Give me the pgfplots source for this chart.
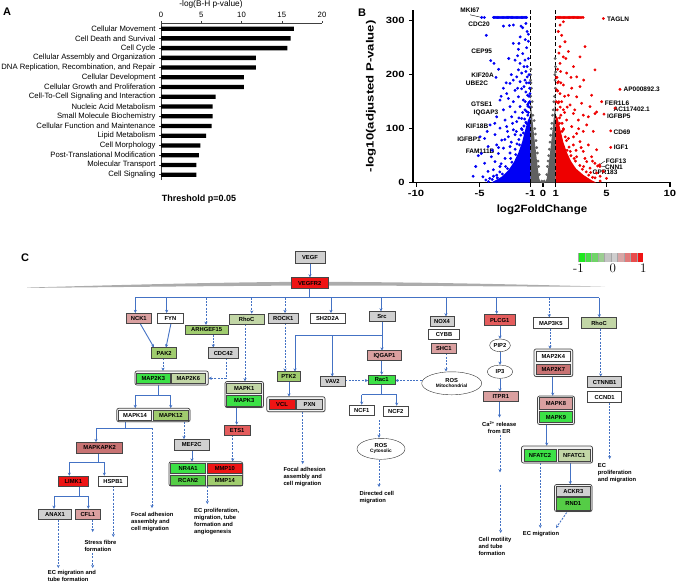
\documentclass[border=0pt]{standalone}
\usepackage{fontspec}
\setmainfont{Liberation Sans}
\newfontfamily\lmr{Latin Modern Roman}
\usepackage{pgfplots}
\pgfplotsset{compat=1.18}
\usetikzlibrary{arrows.meta,shadows,shapes.geometric}
\definecolor{abl}{RGB}{68,114,196}
\definecolor{vblue}{RGB}{0,0,245}
\definecolor{vred}{RGB}{238,0,0}
\definecolor{vgray}{RGB}{96,96,96}
\definecolor{cgray}{RGB}{208,208,208}
\definecolor{cred}{RGB}{238,20,20}
\definecolor{cred2}{RGB}{228,92,92}
\definecolor{cpink}{RGB}{218,160,160}
\definecolor{cdpink}{RGB}{200,115,115}
\definecolor{cgreen}{RGB}{60,225,70}
\definecolor{cgreen2}{RGB}{85,205,70}
\definecolor{csage}{RGB}{194,214,166}
\definecolor{clgreen}{RGB}{160,204,110}
\definecolor{cl1}{RGB}{30,232,30}
\definecolor{cl2}{RGB}{72,222,72}
\definecolor{cl3}{RGB}{112,212,104}
\definecolor{cl4}{RGB}{155,205,145}
\definecolor{cl5}{RGB}{196,196,196}
\definecolor{cl6}{RGB}{206,206,206}
\definecolor{cl7}{RGB}{216,166,166}
\definecolor{cl8}{RGB}{226,122,122}
\definecolor{cl9}{RGB}{232,76,76}
\definecolor{cl10}{RGB}{240,20,20}
\tikzset{
 gbox/.style={draw=gray!55!black,line width=0.45pt,inner sep=0pt,font=\bfseries\fontsize{5.8}{6}\selectfont,drop shadow={shadow xshift=0.6pt,shadow yshift=-0.6pt,opacity=0.3}},
 grp/.style={draw=gray!55!black,line width=0.7pt,rounded corners=2pt,fill=gray!10,drop shadow={shadow xshift=0.6pt,shadow yshift=-0.6pt,opacity=0.3}},
 ell/.style={draw=black!80,line width=0.4pt,ellipse,inner sep=0pt,fill=white,align=center,font=\bfseries\fontsize{5.8}{6}\selectfont},
 sa/.style={abl,line width=0.9pt,-{Stealth[length=3.2pt,width=3.2pt]}},
 da/.style={sa,dash pattern=on 2pt off 1.3pt},
 ln/.style={abl,line width=0.9pt},
 txt/.style={font=\bfseries\fontsize{5.8}{7}\selectfont,align=left,anchor=north west,inner sep=0pt},
 gl/.style={font=\bfseries\fontsize{6.5}{7}\selectfont,inner sep=0pt},
}
\newcommand{\bx}[6][10]{\node[gbox,minimum height=#1pt,minimum width=#4pt,fill=#5] at (#2,#3) {#6};}
\begin{document}
\begin{tikzpicture}
\path[use as bounding box] (0pt,0pt) rectangle (676pt,-582pt);
% ---------------- Panel A
\node[font=\bfseries\fontsize{11}{12}\selectfont] at (7pt,-12pt) {A};
\node[font=\fontsize{8.3}{9}\selectfont] at (211pt,-4.5pt) {-log(B-H p-value)};
\node[font=\bfseries\fontsize{9}{10}\selectfont] at (199pt,-198.7pt) {Threshold p=0.05};
\begin{axis}[at={(161pt,-23.3pt)},anchor=north west,scale only axis,
 width=161pt,height=156.7pt,
 xbar,bar width=4.3pt,
 xmin=0,xmax=20,ymin=-0.55,ymax=15.55,
 axis x line=top,axis y line=left,
 axis line style={-,line width=0.6pt,black!75},
 every outer x axis line/.append style={-},
 every outer y axis line/.append style={-},
 xtick={0,5,10,15,20},ytick={0,...,15},
 yticklabels={Cell Signaling,Molecular Transport,Post-Translational Modification,Cell Morphology,Lipid Metabolism,Cellular Function and Maintenance,Small Molecule Biochemistry,Nucleic Acid Metabolism,Cell-To-Cell Signaling and Interaction,Cellular Growth and Proliferation,Cellular Development,{DNA Replication, Recombination, and Repair},Cellular Assembly and Organization,Cell Cycle,Cell Death and Survival,Cellular Movement},
 tick align=outside,major tick length=2pt,tick style={black!75,line width=0.5pt},
 tick label style={font=\fontsize{7.7}{8}\selectfont},
 /pgf/number format/assume math mode=true,
]
\addplot[fill=black,draw=none] coordinates {(16.5,15)(16.1,14)(15.7,13)(11.8,12)(11.8,11)(10.3,10)(10.3,9)(6.8,8)(6.4,7)(6.4,6)(6.3,5)(5.6,4)(4.9,3)(4.7,2)(4.4,1)(4.4,0)};
\end{axis}
% ---------------- Panel B
\node[font=\bfseries\fontsize{11}{12}\selectfont] at (362pt,-13pt) {B};
\begin{axis}[at={(413pt,-182.7pt)},anchor=south west,scale only axis,
 width=258pt,height=172.8pt,
 xmin=-10.24,xmax=10.08,ymin=0,ymax=320,clip=false,
 axis lines=left,
 axis line style={-,line width=1.3pt},
 every outer x axis line/.append style={-},every outer y axis line/.append style={-},
 xtick={-10,-5,-1,0,1,5,10},ytick={0,100,200,300},
 tick align=outside,major tick length=4pt,tick style={black,line width=1.1pt},
 tick label style={font=\bfseries\fontsize{9}{10}\selectfont,xscale=1.25},
 /pgf/number format/assume math mode=true,
 xlabel={log2FoldChange},ylabel={-log10(adjusted P-value)},
 xlabel style={font=\bfseries\fontsize{10.5}{12}\selectfont,xscale=1.1,at={(axis description cs:0.5,-0.158)},anchor=center},
 ylabel style={font=\bfseries\fontsize{10.5}{12}\selectfont,at={(axis description cs:-0.163,0.5)},anchor=center,xscale=1.25},
]
% dense cores
\addplot[fill=vgray,draw=none] coordinates {(-1,0)(-1,160)(-0.95,145)(-0.89,130)(-0.75,98)(-0.63,72)(-0.5,45)(-0.4,25)(-0.3,8)(-0.2,2)(0,0.5)(0.2,2)(0.3,8)(0.4,25)(0.5,45)(0.63,72)(0.75,98)(0.89,130)(0.95,150)(1,168)(1,0)};
\addplot[fill=vblue,draw=none] coordinates {(-1,0)(-4.1,0)(-3.7,5)(-3.2,12)(-2.7,24)(-2.3,38)(-1.95,55)(-1.65,75)(-1.4,98)(-1.2,115)(-1,125)};
\addplot[fill=vred,draw=none] coordinates {(1,0)(4.2,0)(3.8,5)(3.2,14)(2.6,26)(2.2,40)(1.9,55)(1.6,75)(1.35,100)(1.15,120)(1,125)};
% gray points
\addplot[only marks,mark=*,mark size=1.2pt,color=vgray] coordinates {
(-0.95,185)(-0.98,200)(-0.92,175)(-0.85,150)(-0.7,115)(-0.6,90)(-0.5,65)(-0.4,40)(-0.97,160)(-0.9,140)(-0.8,125)(-0.65,100)(-0.55,78)(-0.45,55)(-0.35,30)(0.35,30)(0.4,40)(0.5,62)(0.6,88)(0.7,110)(0.8,135)(0.9,160)(0.95,190)(0.98,215)(0.93,200)(0.85,150)(0.75,125)(0.65,100)(0.55,75)(0.45,50)(0.97,175)(-0.99,190)(0.99,205)(-0.3,15)(0.3,15)(-0.1,3)(0.1,3)(0,1)(-0.96,210)(0.96,230)};
% blue points
\addplot[only marks,mark=*,mark size=1.25pt,color=vblue] coordinates {
(-4.83,306)(-4.62,306)(-3.9,306)(-3.8,306)(-3.7,306)(-3.6,306)(-3.5,306)(-3.4,306)(-3.3,306)(-3.2,306)(-3.1,306)(-3.0,306)(-2.9,306)(-2.8,306)(-2.7,306)(-2.6,306)(-2.5,306)(-2.4,306)(-2.3,306)(-2.2,306)(-2.1,306)(-2.0,306)(-1.9,306)(-1.8,306)(-1.7,306)(-1.6,306)(-1.5,306)(-1.4,306)(-1.3,306)
(-4.47,273)(-3.12,290)(-2.65,291)(-2.34,292)(-1.73,290)(-1.6,287)(-1.35,295)(-2.34,258)(-1.94,247)(-1.6,239)(-1.29,250)(-1.15,262)
(-4.12,226)(-3.86,221)(-2.2,227)(-1.81,221)(-1.42,227)(-1.5,215)(-1.94,209)(-1.68,203)(-1.35,206)(-2.07,196)(-2.34,190)(-2.6,184)
(-1.81,187)(-1.42,190)(-1.24,196)(-3.12,175)(-2.86,165)(-2.2,171)(-1.68,174)(-1.35,168)(-3.39,153)(-2.73,156)(-2.34,150)(-1.94,159)
(-1.55,153)(-1.21,162)(-3.12,135)(-2.6,141)(-2.2,131)(-1.81,141)(-1.42,135)(-3.65,122)(-2.99,116)(-2.47,122)(-2.07,113)(-1.68,119)
(-4.17,107)(-3.39,101)(-2.86,104)(-2.34,98)(-4.6,82)(-3.78,89)(-3.25,79)(-2.73,85)(-2.2,89)(-4.33,67)(-3.65,70)(-3.12,64)(-2.6,67)
(-4.86,54)(-4.07,48)(-3.52,54)(-2.99,45)(-4.6,36)(-3.78,39)(-3.39,30)(-4.33,21)(-3.91,24)(-4.73,11)(-4.2,8)(-3.65,14)(-4.96,85)
(-5.3,30)(-5.1,50)(-5.5,12)(-2.5,200)(-2.9,185)(-3.3,160)(-2.0,175)(-1.15,230)(-1.25,215)(-1.1,200)(-1.3,185)(-1.5,178)(-1.2,145)
(-1.6,130)(-1.9,120)(-2.4,110)(-2.8,95)(-1.3,110)(-1.7,100)(-2.1,95)(-3.0,80)(-3.5,65)(-4.0,60)(-2.5,75)(-3.8,110)(-4.4,95)
(-1.15,275)(-1.25,280)(-1.4,265)(-1.8,270)(-2.0,235)(-2.7,230)(-3.5,210)(-3.7,195)(-1.9,258)
(-4.3,2)(-4.0,6)(-3.6,9)(-3.2,16)(-2.8,26)(-2.45,38)(-2.15,52)(-1.85,70)(-1.55,92)(-1.35,112)(-1.15,130)(-1.05,150)(-1.1,160)(-1.2,142)(-1.05,175)(-1.1,185)
(-3.9,12)(-3.4,20)(-2.95,30)(-2.55,45)(-2.2,62)(-1.9,80)(-1.65,98)(-1.45,118)(-1.3,132)(-1.12,148)(-4.5,5)(-3.3,35)(-2.6,55)(-2.05,72)(-1.75,88)(-1.5,105)(-1.2,125)(-1.08,140)(-1.03,165)(-1.4,150)};
% red points
\addplot[only marks,mark=*,mark size=1.25pt,color=vred] coordinates {
(1.1,306)(1.2,306)(1.3,306)(1.4,306)(1.5,306)(1.6,306)(1.7,306)(1.8,306)(1.9,306)(2.0,306)(2.1,306)(2.2,306)(2.3,306)(2.4,306)(2.5,306)(2.6,306)(2.7,306)(2.8,306)(2.9,306)(3.0,306)(3.15,306)
(1.34,292)(1.6,298)(1.47,273)(1.73,261)(1.34,252)(2.0,243)(1.6,233)(2.91,233)(1.34,221)(1.39,206)(1.86,203)(2.65,196)(1.21,187)
(1.6,181)(2.26,175)(2.91,178)(1.34,165)(2.0,162)(2.65,159)(3.83,162)(1.47,150)(2.13,144)(3.04,147)(3.7,141)(1.6,135)(2.39,128)
(3.57,122)(4.22,131)(1.86,116)(2.78,116)(3.44,107)(2.26,104)(1.6,98)(2.65,91)(3.17,95)(3.96,95)(2.0,82)(2.91,76)(2.39,70)(3.57,70)
(4.22,61)(3.17,58)(3.83,48)(2.65,48)(3.44,39)(4.09,36)(4.48,30)(3.7,27)(4.75,21)(4.22,18)(3.31,252)(4.09,209)(3.17,125)(4.09,128)
(1.2,280)(1.25,240)(1.15,210)(1.1,195)(1.15,170)(1.25,150)(1.4,185)(2.4,215)(1.8,230)(2.2,195)(1.7,160)(2.5,135)(1.3,120)(1.9,140)
(3.2,190)(2.8,100)(1.5,110)(2.4,85)(3.0,65)(1.9,60)(2.6,60)(3.3,45)(3.9,40)(2.2,50)(4.5,12)(5.0,8)(3.2,30)
(4.5,3)(4.1,9)(3.6,14)(3.1,25)(2.55,40)(2.15,58)(1.85,78)(1.6,100)(1.4,125)(1.2,148)(1.08,172)(1.15,185)(1.05,195)
(3.9,10)(3.4,20)(2.9,32)(2.45,45)(2.05,66)(1.75,85)(1.5,95)(1.3,110)(1.12,135)(1.05,150)(1.35,140)(2.7,20)(3.0,12)(2.3,30)(1.7,130)
(4.75,304)(6.06,173)(4.62,150)(5.67,138)(4.8,127)(5.33,96)(5.33,65.5)(4.3,31)(4.45,33)(3.75,19)};
% thresholds
\addplot[black,line width=1.3pt,dash pattern=on 4pt off 2.5pt] coordinates {(-1,0)(-1,320)};
\addplot[black,line width=1.3pt,dash pattern=on 4pt off 2.5pt] coordinates {(1,0)(1,320)};
% gene labels
\draw[line width=0.4pt] (axis cs:-5.75,311) -- (axis cs:-4.83,306);
\draw[line width=0.4pt] (axis cs:4.88,40.2) -- (axis cs:4.3,31);
\draw[line width=0.4pt] (axis cs:4.88,29.6) -- (axis cs:4.45,31.5);
\node[gl] at (axis cs:-5.75,318.9) {MKI67};
\node[gl] at (axis cs:-5.04,293.9) {CDC20};
\node[gl] at (axis cs:-4.83,242.6) {CEP95};
\node[gl] at (axis cs:-4.76,198.5) {KIF20A};
\node[gl] at (axis cs:-5.2,184.6) {UBE2C};
\node[gl] at (axis cs:-4.83,144.8) {GTSE1};
\node[gl] at (axis cs:-4.49,129.1) {IQGAP3};
\node[gl] at (axis cs:-5.2,104.9) {KIF18B};
\node[gl] at (axis cs:-5.83,80.9) {IGFBP1};
\node[gl] at (axis cs:-4.96,58.7) {FAM111B};
\node[gl] at (axis cs:5.91,301.9) {TAGLN};
\node[gl] at (axis cs:7.77,172.2) {AP000892.3};
\node[gl] at (axis cs:5.83,147.6) {FER1L6};
\node[gl] at (axis cs:6.98,135.6) {AC117402.1};
\node[gl] at (axis cs:5.97,123.9) {IGFBP5};
\node[gl] at (axis cs:6.22,93.5) {CD69};
\node[gl] at (axis cs:6.14,65.2) {IGF1};
\node[gl] at (axis cs:5.75,38.9) {FGF13};
\node[gl] at (axis cs:5.59,28.1) {CNN1};
\node[gl] at (axis cs:4.88,18.9) {GPR183};
\end{axis}
% ---------------- Panel C
\begin{scope}[x=1pt,y=-1pt]
\node[font=\bfseries\fontsize{11}{12}\selectfont] at (25,258) {C};
% colour key
\foreach \c [count=\i from 0] in {cl1,cl2,cl3,cl4,cl5,cl6,cl7,cl8,cl9,cl10}{
  \fill[\c] (578.3+6.5*\i,253.3) rectangle (584.8+6.5*\i,261.7);
  \draw[gray!70,line width=0.3pt] (578.3+6.5*\i,253.3) -- (578.3+6.5*\i,261.7);
}
\node[font=\lmr\fontsize{13}{14}\selectfont] at (578.5,268.5) {-1};
\node[font=\lmr\fontsize{13}{14}\selectfont] at (612.7,268.5) {0};
\node[font=\lmr\fontsize{13}{14}\selectfont] at (643.3,268.5) {1};
% membrane
\fill[gray!65] (27,287.6) .. controls (150,284) and (240,282) .. (310,281.8) .. controls (420,282) and (520,284.5) .. (605,286.6) .. controls (520,286.9) and (420,285.4) .. (310,285.6) .. controls (240,285.7) and (150,286.8) .. (27,287.9) -- cycle;
% lines and arrows
\draw[sa] (310,263.8) -- (310,277.4);
\draw[ln] (309.7,288.3) -- (309.7,297.7);
\draw[ln] (135.3,297.7) -- (599.3,297.7);
\foreach \x/\y in {135.3/313,166.7/313,331/313,381/311.4,446/316.4,496.7/314,599.3/317.4}{\draw[sa] (\x,297.7) -- (\x,\y);}
\foreach \x/\y in {206/324.8,251.7/313.6,285/313,549.3/317.4}{\draw[da] (\x,297.7) -- (\x,\y);}
\draw[sa] (140,323.3) -- (154,347.5);
\draw[sa] (171,323.3) -- (166,347.5);
\draw[da] (213.3,334.5) -- (213.3,347.5);
\draw[da] (163,358.3) -- (163,370.8);
\draw[da] (226,358.3) -- (226,378.3) -- (208.6,378.3);
\draw[da] (245,324.3) -- (245,381.3);
\draw[da] (285,323.3) -- (285,371.5);
\draw[ln] (382,321.7) -- (382,335);
\draw[ln] (295,335) -- (382,335);
\draw[sa] (295,335) -- (295,371.5);
\draw[sa] (332.3,335) -- (332.3,376.5);
\draw[sa] (382,335) -- (382,350.5);
\draw[sa] (381.7,360.7) -- (381.7,374.8);
\draw[da] (345.2,380.5) -- (368.1,380.5);
\draw[da] (421.7,380.5) -- (395.2,380.5);
\draw[da] (446,353.4) -- (446,371.5);
\draw[sa] (289,381.8) -- (289,396.5);
\draw[ln] (158,385) -- (158,395);
\draw[ln] (135.3,395) -- (170.7,395);
\draw[sa] (135.3,395) -- (135.3,408.1);
\draw[sa] (170.7,395) -- (170.7,408.1);
\draw[ln] (125,421.7) -- (125,428.3);
\draw[ln] (96,428.3) -- (152,428.3);
\draw[sa] (96,428.3) -- (96,442.1);
\draw[da] (152,428.3) -- (152,508);
\draw[da] (184,421.9) -- (184,439.1);
\draw[sa] (192,450.1) -- (192,461.5);
\draw[da] (207.3,486.2) -- (207.3,504);
\draw[sa] (236.7,407.6) -- (236.7,424.8);
\draw[da] (232.7,435.1) -- (232.7,461.5);
\draw[da] (302.7,411.9) -- (302.7,464);
\draw[ln] (98,453.4) -- (98,462.3);
\draw[ln] (69.3,462.3) -- (104.3,462.3);
\draw[sa] (69.3,462.3) -- (69.3,475.8);
\draw[sa] (104.3,462.3) -- (104.3,475.8);
\draw[ln] (79,486.1) -- (79,496);
\draw[ln] (54,496) -- (88.3,496);
\draw[sa] (54,496) -- (54,508.8);
\draw[sa] (88.3,496) -- (88.3,508.8);
\draw[da] (113.3,486.1) -- (113.3,537);
\draw[da] (92.7,519.5) -- (92.7,532);
\draw[da] (92.7,553) -- (92.7,568);
\draw[da] (58.3,519.5) -- (58.3,568);
\draw[ln] (381.7,384.1) -- (381.7,394.7);
\draw[ln] (361.7,394.7) -- (396.7,394.7);
\draw[sa] (361.7,394.7) -- (361.7,404.8);
\draw[sa] (396.7,394.7) -- (396.7,405.8);
\draw[da] (379,420) -- (379,437.8);
\draw[da] (379,459.5) -- (379,487);
\draw[sa] (500,325.8) -- (500,338.8);
\draw[sa] (500,351.8) -- (500,364.8);
\draw[sa] (500,378.5) -- (500,391.5);
\draw[sa] (499.5,401.8) -- (499.5,417.5);
\draw[da] (500,435) -- (500,472.4);
\draw[da] (500.7,484.6) -- (500.7,533);
\draw[da] (550,328.5) -- (550,348.8);
\draw[sa] (552.7,376.7) -- (552.7,395.8);
\draw[sa] (546.7,424.7) -- (546.7,445.8);
\draw[da] (540.3,463.2) -- (540.3,528);
\draw[sa] (570.3,463.2) -- (570.3,484.3);
\draw[da] (566.7,512.5) -- (556,528);
\draw[da] (600.7,328.5) -- (600.7,376.5);
\draw[da] (609.7,402.5) -- (609.7,459);
% group boxes
\draw[grp] (534,349) rectangle (572.7,376.5);
\draw[grp] (266.7,396.7) rectangle (325,411.7);
\draw[grp] (225,381.5) rectangle (263.5,407.5);
\draw[grp] (135,371) rectangle (208.3,385);
\draw[grp] (116.7,408.3) rectangle (190,421.7);
\draw[grp] (169,461.7) rectangle (242.7,486);
\draw[grp] (537.5,396) rectangle (574.5,424.5);
\draw[grp] (521.5,446) rectangle (592.5,463);
\draw[grp] (554.5,484.5) rectangle (592,511.5);
% boxes
\bx[12]{310}{257.5}{30}{cgray}{VEGF}
\bx[10.7]{309.7}{283}{37}{cred}{VEGFR2}
\bx{138.8}{318.3}{25.7}{cpink}{NCK1}
\bx{170.5}{318.3}{25.6}{white}{FYN}
\bx[9.5]{206.7}{329.7}{43.3}{clgreen}{ARHGEF15}
\bx[10.3]{246.7}{319}{34.7}{csage}{RhoC}
\bx{283.3}{318.3}{30}{cgray}{ROCK1}
\bx{327.5}{318.3}{35}{white}{SH2D2A}
\bx{382}{316.7}{25.7}{cgray}{Src}
\bx[9.5]{442}{321.3}{24}{cgray}{NOX4}
\bx{444}{334.3}{30.6}{white}{CYBB}
\bx{443.8}{348.3}{25.7}{cpink}{SHC1}
\bx[11.3]{499.7}{320}{30.7}{cred2}{PLCG1}
\bx[10.6]{550.8}{323}{35}{white}{MAP3K5}
\bx[10.6]{599}{323}{35}{csage}{RhoC}
\node[ell,minimum width=20.7pt,minimum height=12.7pt] at (500,345.3) {PIP2};
\node[ell,minimum width=25.4pt,minimum height=13.3pt] at (500,371.7) {IP3};
\bx{500.8}{396.7}{35}{cpink}{ITPR1}
\bx[10.7]{553.3}{356.3}{34.7}{white}{MAP2K4}
\bx[10.3]{553.3}{369.2}{34.7}{cdpink}{MAP2K7}
\bx[11]{604.7}{382.2}{34}{cgray}{CTNNB1}
\bx[10.6]{604.7}{397}{34}{white}{CCND1}
\node[ell,minimum width=60pt,minimum height=23pt] at (451.7,383.3) {ROS\\[-1pt]{\fontsize{4.8}{5}\selectfont Mitochondrial}};
\bx[9]{381.7}{379.5}{26.7}{cgreen}{Rac1}
\bx{384.5}{355.7}{34.4}{cpink}{IQGAP1}
\bx{332.5}{381.7}{25}{cgray}{VAV2}
\bx{288.7}{376.7}{22.7}{clgreen}{PTK2}
\bx[10.3]{282}{404.2}{26}{cred}{VCL}
\bx[10.3]{309.7}{404.2}{26}{cgray}{PXN}
\bx{244.2}{388.3}{35}{csage}{MAPK1}
\bx[11]{244.2}{400.5}{35}{cgreen}{MAPK3}
\bx{237.2}{430}{25.7}{cred2}{ETS1}
\bx[10.6]{223.3}{353}{30}{cgray}{CDC42}
\bx[10.6]{164.2}{353}{25}{clgreen}{PAK2}
\bx[9.3]{153.3}{378.3}{33.3}{cgreen}{MAP2K3}
\bx[9.3]{188.3}{378.3}{33.3}{csage}{MAP2K6}
\bx{361.8}{410}{25}{white}{NCF1}
\bx{395.8}{411}{25}{white}{NCF2}
\node[ell,minimum width=48pt,minimum height=21pt] at (381,448.8) {ROS\\[-1pt]{\fontsize{4.8}{5}\selectfont Cytosolic}};
\bx{135}{415}{33.4}{white}{MAPK14}
\bx{170.8}{415}{35}{clgreen}{MAPK12}
\bx[11]{99.7}{447.8}{46}{cdpink}{MAPKAPK2}
\bx{73.3}{481}{30}{cred}{LIMK1}
\bx{113}{481}{29.4}{white}{HSPB1}
\bx[10.3]{55}{514.2}{33.4}{cgray}{ANAX1}
\bx[10.3]{87.8}{514.2}{25.7}{cpink}{CFL1}
\bx[10.7]{191.7}{444.7}{35.3}{cgray}{MEF2C}
\bx{188.2}{468.3}{35}{cgreen}{NR4A1}
\bx{188.2}{480}{35}{cgreen2}{RCAN2}
\bx{224.8}{468.3}{35}{cred}{MMP10}
\bx{224.8}{480}{35}{clgreen}{MMP14}
\bx[11.3]{556}{403.3}{33.4}{cpink}{MAPK8}
\bx[11]{556}{417.2}{33.4}{cgreen}{MAPK9}
\bx[11.7]{540}{455}{32}{cgreen}{NFATC2}
\bx[11.7]{574.2}{455}{31.7}{csage}{NFATC1}
\bx[10.7]{573.3}{491.3}{34.7}{cgray}{ACKR3}
\bx[12.3]{573.3}{503.8}{34.7}{cgreen2}{RND1}
% texts
\node[txt] at (131,511.7) {Focal adhesion\\assembly and\\cell migration};
\node[txt] at (84.3,540) {Stress fibre\\formation};
\node[txt] at (47.7,570) {EC migration and\\tube formation};
\node[txt] at (194,508) {EC proliferation,\\migration, tube\\formation and\\angiogenesis};
\node[txt] at (283.3,466.7) {Focal adhesion\\assembly and\\cell migration};
\node[txt] at (359.3,490.7) {Directed cell\\migration};
\node[txt,anchor=center,align=center] at (499.2,427.5) {Ca\textsuperscript{2+} release\\from ER};
\node[txt] at (478.3,537.3) {Cell motility\\and tube\\formation};
\node[txt,anchor=center] at (541,534) {EC migration};
\node[txt] at (597.7,463.3) {EC\\proliferation\\and migration};
\end{scope}
\end{tikzpicture}
\end{document}
